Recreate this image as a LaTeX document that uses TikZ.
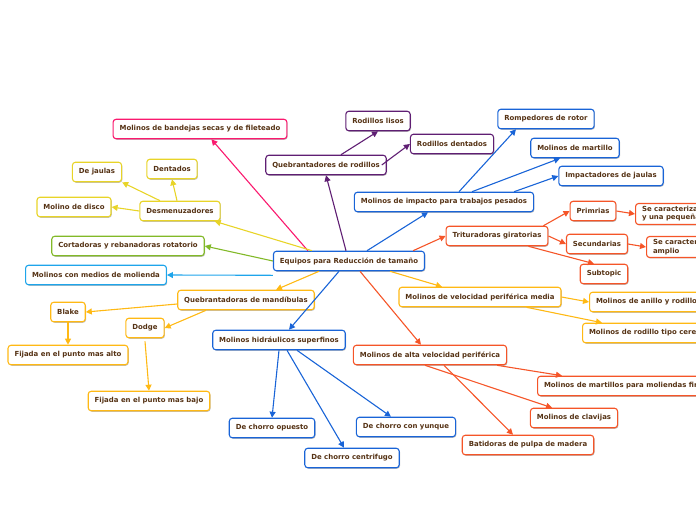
\documentclass[tikz,border=0pt]{standalone}
\usepackage{fontspec}
\setmainfont{DejaVu Sans}
\usetikzlibrary{arrows.meta, shadows}

\definecolor{txtc}{RGB}{85,50,20}
\definecolor{pinkc}{RGB}{250,25,110}
\definecolor{purplec}{RGB}{95,30,115}
\definecolor{bluec}{RGB}{25,100,215}
\definecolor{redc}{RGB}{245,85,40}
\definecolor{yellowc}{RGB}{232,212,40}
\definecolor{greenc}{RGB}{130,185,40}
\definecolor{cyanc}{RGB}{30,165,235}
\definecolor{amberc}{RGB}{255,185,20}

\tikzset{
  box/.style={rectangle, rounded corners=3pt, fill=white, line width=1.1pt,
    inner xsep=6.5pt, inner ysep=5.5pt, minimum height=19.5pt, text=txtc,
    font=\fontsize{6.95}{8.2}\selectfont\bfseries,
    drop shadow={shadow xshift=0.8pt, shadow yshift=-1pt, opacity=0.25, fill=black}},
  link/.style={line width=1.1pt, -{Triangle[length=6pt,width=6pt]}}
}

\begin{document}
\begin{tikzpicture}[x=1pt, y=-1pt]
\useasboundingbox (0,0) rectangle (696,520);
\clip (0,0) rectangle (696,520);

\node[box, draw=bluec] (root) at (349,261) {Equipos para Reducción de tamaño};

\node[box, draw=pinkc] (bandejas) at (200,129) {Molinos de bandejas secas y de fileteado};

\node[box, draw=purplec] (qrodillos) at (326,165) {Quebrantadores de rodillos};
\node[box, draw=purplec] (lisos) at (378,121) {Rodillos lisos};
\node[box, draw=purplec] (dentados) at (452,144) {Rodillos dentados};

\node[box, draw=bluec] (impacto) at (444,202) {Molinos de impacto para trabajos pesados};
\node[box, draw=bluec] (rotor) at (546,119) {Rompedores de rotor};
\node[box, draw=bluec] (martillo) at (575,148) {Molinos de martillo};
\node[box, draw=bluec] (jaulas) at (611,176) {Impactadores de jaulas};

\node[box, draw=redc] (trituradoras) at (497,236) {Trituradoras giratorias};
\node[box, draw=redc] (primrias) at (593,211) {Primrias};
\node[box, draw=redc] (secundarias) at (597,244) {Secundarias};
\node[box, draw=redc] (subtopic) at (604,274) {Subtopic};
\node[box, draw=redc, anchor=west, align=left, inner ysep=3pt] (carac1) at (635,214) {Se caracterizan por\\y una pequeña abertura};
\node[box, draw=redc, anchor=west, align=left, inner ysep=3pt] (carac2) at (646,247) {Se caracterizan por\\amplio};

\node[box, draw=yellowc] (desmenuzadores) at (180,211) {Desmenuzadores};
\node[box, draw=yellowc] (dejaulas) at (97,172) {De jaulas};
\node[box, draw=yellowc] (dentadosd) at (172,169) {Dentados};
\node[box, draw=yellowc] (disco) at (74,207) {Molino de disco};

\node[box, draw=greenc] (cortadoras) at (128,246) {Cortadoras y rebanadoras rotatorio};
\node[box, draw=cyanc] (molienda) at (96,275) {Molinos con medios de molienda};

\node[box, draw=amberc] (mandibulas) at (246,300) {Quebrantadoras de mandíbulas};
\node[box, draw=amberc] (blake) at (68,312) {Blake};
\node[box, draw=amberc] (dodge) at (145,328) {Dodge};
\node[box, draw=amberc] (alto) at (68,355) {Fijada en el punto mas alto};
\node[box, draw=amberc] (bajo) at (149,401) {Fijada en el punto mas bajo};

\node[box, draw=bluec] (hidraulicos) at (279,340) {Molinos hidráulicos superfinos};
\node[box, draw=bluec] (opuesto) at (272,428) {De chorro opuesto};
\node[box, draw=bluec] (centrifugo) at (352,458) {De chorro centrifugo};
\node[box, draw=bluec] (yunque) at (406,427) {De chorro con yunque};

\node[box, draw=amberc] (vmedia) at (480,297) {Molinos de velocidad periférica media};
\node[box, draw=amberc, anchor=west] (anillo) at (589,302) {Molinos de anillo y rodillos};
\node[box, draw=amberc, anchor=west] (cereal) at (582,333) {Molinos de rodillo tipo cereal};

\node[box, draw=redc] (alta) at (430,355) {Molinos de alta velocidad periférica};
\node[box, draw=redc, anchor=west] (finas) at (537,386) {Molinos de martillos para moliendas finas};
\node[box, draw=redc] (clavijas) at (574,418) {Molinos de clavijas};
\node[box, draw=redc] (batidoras) at (528,445) {Batidoras de pulpa de madera};

% ramas
\draw[link, pinkc] ([xshift=35pt]root.north west) -- ([xshift=-76pt]bandejas.south east);
\draw[link, purplec] ([xshift=-3pt]root.north) -- (qrodillos.south);
\draw[link, purplec] ([xshift=15pt]qrodillos.north) -- (lisos.south);
\draw[link, purplec] ([xshift=-5pt]qrodillos.east) -- (dentados.west);
\draw[link, bluec] ([xshift=18pt]root.north) -- ([xshift=-16pt]impacto.south);
\draw[link, bluec] ([xshift=15pt]impacto.north) -- ([xshift=-30pt]rotor.south);
\draw[link, bluec] ([xshift=28pt]impacto.north) -- ([xshift=-15pt]martillo.south);
\draw[link, bluec] ([xshift=-20pt]impacto.north east) -- (jaulas.west);
\draw[link, redc] ([xshift=-12pt]root.north east) -- (trituradoras.west);
\draw[link, redc] ([xshift=-5pt]trituradoras.north east) -- (primrias.west);
\draw[link, redc] (trituradoras.east) -- (secundarias.west);
\draw[link, redc] ([xshift=-20pt]trituradoras.south east) -- ([xshift=-10pt]subtopic.north);
\draw[link, redc] (primrias.east) -- (carac1.west);
\draw[link, redc] (secundarias.east) -- (carac2.west);
\draw[link, yellowc] ([xshift=-37pt]root.north) -- ([xshift=-6pt]desmenuzadores.south east);
\draw[link, yellowc] ([xshift=-20pt]desmenuzadores.north) -- (dejaulas.south east);
\draw[link, yellowc] ([xshift=-3pt]desmenuzadores.north) -- (dentadosd.south);
\draw[link, yellowc] (desmenuzadores.west) -- (disco.east);
\draw[link, greenc] (root.west) -- (cortadoras.east);
\draw[link, cyanc] ([yshift=-4pt]root.south west) -- (molienda.east);
\draw[link, amberc] ([xshift=-30pt]root.south) -- ([xshift=30pt]mandibulas.north);
\draw[link, amberc] ([yshift=-4pt]mandibulas.west) -- (blake.east);
\draw[link, amberc] ([xshift=-40pt]mandibulas.south) -- (dodge.east);
\draw[link, amberc] (blake.south) -- (alto.north);
\draw[link, amberc] ([yshift=-3pt]dodge.south) -- (bajo.north);
\draw[link, bluec] ([xshift=-10pt]root.south) -- ([xshift=10pt]hidraulicos.north);
\draw[link, bluec] ([xshift=0pt]hidraulicos.south) -- (opuesto.north);
\draw[link, bluec] ([xshift=8pt]hidraulicos.south) -- ([xshift=-8pt]centrifugo.north);
\draw[link, bluec] ([xshift=18pt]hidraulicos.south) -- ([xshift=-15pt]yunque.north);
\draw[link, amberc] ([xshift=41pt]root.south) -- ([xshift=-38pt]vmedia.north);
\draw[link, amberc] (vmedia.east) -- (anillo.west);
\draw[link, amberc] ([xshift=-35pt]vmedia.south east) -- ([xshift=20pt]cereal.north west);
\draw[link, redc] ([xshift=11pt]root.south) -- ([xshift=-9pt]alta.north);
\draw[link, redc] ([xshift=-10pt]alta.south east) -- ([xshift=25pt]finas.north west);
\draw[link, redc] ([xshift=-5pt]alta.south) -- ([xshift=-22pt]clavijas.north);
\draw[link, redc] ([xshift=14pt]alta.south) -- ([xshift=-15pt]batidoras.north);
\end{tikzpicture}
\end{document}
